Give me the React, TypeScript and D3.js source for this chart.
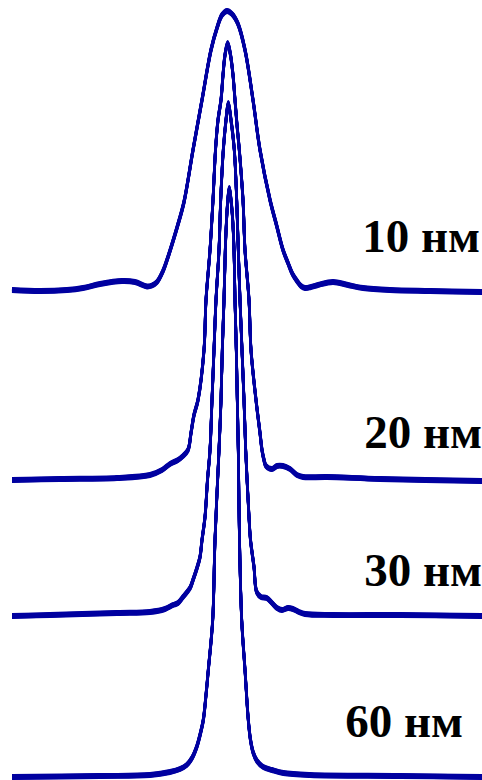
import React from "react";
import * as d3 from "d3";

// Position (a.u.) and intensity (a.u., relative to each curve's own baseline)
const x10 = [-21.7, -18.9, -16.2, -14.6, -12.9, -10.7, -9.4, -8.2, -7.7, -7.2, -6.6, -6.2, -5.75, -5.15, -4.5, -3.6, -2.7, -1.8, -1.2, -0.7, -0.2, 0.3, 0.9, 1.6, 2.4, 3.1, 4.1, 4.75, 5.4, 5.9, 6.35, 6.8, 7.2, 7.6, 8.2, 8.9, 10.4, 11.9, 13.4, 16.1, 20.1, 25.3];
const y10 = [0, -0.01, 0, 0.02, 0.06, 0.09, 0.08, 0.035, 0.045, 0.08, 0.19, 0.3, 0.44, 0.64, 0.88, 1.4, 1.9, 2.4, 2.62, 2.75, 2.79, 2.76, 2.66, 2.4, 1.9, 1.4, 0.9, 0.65, 0.4, 0.27, 0.16, 0.09, 0.04, 0.02, 0.03, 0.05, 0.08, 0.05, 0.02, 0, -0.01, -0.02];

const x20 = [-21.7, -16.9, -11.2, -7.9, -6.7, -5.9, -5.1, -4.6, -4.1, -3.8, -3.5, -3.1, -2.5, -2.3, -1.9, -1.6, -1.35, -1.1, -0.8, -0.6, -0.4, -0.13, 0.15, 0.4, 0.6, 0.8, 1.03, 1.4, 1.6, 2.0, 2.2, 2.7, 3.1, 3.3, 3.5, 3.7, 4.3, 4.8, 5.4, 6.1, 6.8, 7.4, 9.8, 15.1, 25.3];
const y20 = [0, 0.01, 0.02, 0.05, 0.1, 0.16, 0.2, 0.24, 0.3, 0.47, 0.65, 0.8, 1.3, 1.8, 2.3, 2.8, 3.3, 3.6, 3.8, 4.05, 4.25, 4.37, 4.25, 4.05, 3.8, 3.55, 3.3, 2.8, 2.3, 1.8, 1.3, 0.8, 0.47, 0.3, 0.2, 0.14, 0.11, 0.14, 0.14, 0.11, 0.05, 0.03, 0.03, 0.01, -0.01];

const x30 = [-21.7, -17.9, -11.2, -7.9, -6.4, -5.6, -5.1, -4.6, -3.9, -3.6, -3.2, -2.9, -2.7, -2.4, -2.15, -1.9, -1.7, -1.5, -1.3, -1.0, -0.83, -0.57, -0.3, -0.07, 0.2, 0.53, 0.77, 0.93, 1.1, 1.3, 1.5, 1.67, 2.0, 2.15, 2.5, 2.77, 3.2, 3.77, 4.3, 4.8, 5.3, 5.9, 6.4, 7.0, 7.6, 10.4, 17.1, 25.3];
const y30 = [0, 0.01, 0.03, 0.04, 0.07, 0.11, 0.13, 0.19, 0.28, 0.36, 0.48, 0.59, 0.76, 0.99, 1.36, 1.66, 2.16, 2.66, 3.16, 3.66, 4.16, 4.66, 4.96, 5.13, 4.96, 4.66, 4.16, 3.66, 3.16, 2.66, 2.16, 1.66, 0.99, 0.76, 0.49, 0.24, 0.19, 0.18, 0.13, 0.08, 0.06, 0.08, 0.07, 0.04, 0.02, 0.01, 0.01, 0];

const x60 = [-21.7, -12.9, -7.9, -5.9, -4.9, -4.23, -3.7, -3.23, -2.9, -2.57, -2.3, -2.07, -1.63, -1.4, -1.0, -0.8, -0.67, -0.5, -0.37, -0.23, -0.1, 0.03, 0.18, 0.35, 0.5, 0.6, 0.73, 0.83, 0.93, 1.05, 1.27, 1.6, 1.93, 2.15, 2.43, 2.8, 3.43, 4.3, 5.43, 8.1, 17.1, 25.3];
const y60 = [0, 0.01, 0.02, 0.05, 0.08, 0.12, 0.19, 0.3, 0.42, 0.57, 0.82, 1.07, 1.57, 2.37, 3.27, 3.77, 4.27, 4.77, 5.27, 5.6, 5.79, 5.89, 5.79, 5.6, 5.27, 4.77, 4.27, 3.77, 3.27, 2.37, 1.57, 1.07, 0.57, 0.37, 0.24, 0.16, 0.1, 0.07, 0.04, 0.02, 0.01, 0];

const labels = ["10 нм", "20 нм", "30 нм", "60 нм"];
const offsets = [4.87, 2.97, 1.61, 0];

const W = 482;
const H = 780;
const COLOR = "#0000a0";

type P = { x: number; y: number };

export default function App() {
  const xScale = d3.scaleLinear().domain([-21.7, 25.3]).range([12, 482]);
  const yScale = d3.scaleLinear().domain([0, 7.7]).range([777, 7]);

  const series: P[][] = [
    { xs: x10, ys: y10 },
    { xs: x20, ys: y20 },
    { xs: x30, ys: y30 },
    { xs: x60, ys: y60 },
  ].map((s, i) => s.xs.map((x, j) => ({ x, y: s.ys[j] + offsets[i] })));

  const curve = d3.curveCatmullRom.alpha(0.5);
  const half = 1.6;
  const shifts = d3.range(-half, half + 0.001, 0.4);

  const lineAt = (dy: number) =>
    d3
      .line<P>()
      .x((d) => xScale(d.x))
      .y((d) => yScale(d.y) + dy)
      .curve(curve);

  // label anchor (right edge) and baseline, in data units
  const labelX = [25.1, 25.3, 25.3, 23.4];
  const labelY = [5.25, 3.29, 1.91, 0.4];

  return (
    <svg
      width={W}
      height={H}
      style={{ position: "absolute", left: 0, top: 0, background: "#fff" }}
    >
      {series.map((pts, i) => (
        <g key={i} fill="none" stroke={COLOR} strokeWidth={2.7} strokeLinejoin="round">
          {shifts.map((dy, k) => (
            <path key={k} d={lineAt(dy)(pts) || ""} />
          ))}
        </g>
      ))}
      {labels.map((t, i) => (
        <text
          key={t}
          x={xScale(labelX[i])}
          y={yScale(labelY[i])}
          textAnchor="end"
          fontFamily="'Liberation Serif', 'Times New Roman', serif"
          fontWeight="bold"
          fontSize={47}
          fill="#000"
        >
          {t}
        </text>
      ))}
    </svg>
  );
}
